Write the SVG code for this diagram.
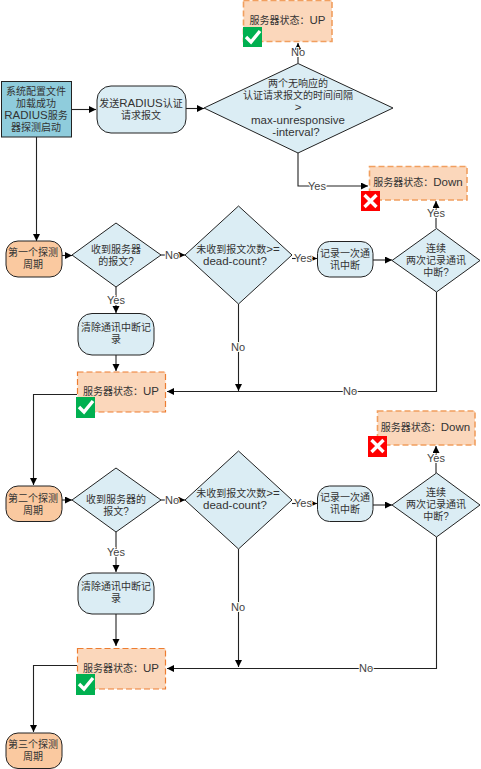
<svg xmlns="http://www.w3.org/2000/svg" width="481" height="769" viewBox="0 0 481 769">
<defs>
<marker id="arr" markerWidth="10" markerHeight="10" refX="7" refY="3.5" orient="auto" markerUnits="userSpaceOnUse"><path d="M0,0 L7,3.5 L0,7 Z" fill="#000"/></marker>
</defs>
<style>
text{font-family:"Liberation Sans","Noto Sans CJK SC",sans-serif;font-size:10px;fill:#333;text-anchor:middle}
.l{font-size:11.5px}
.lbl{font-size:11px;fill:#444;paint-order:stroke;stroke:#fff;stroke-width:2px}
.c{fill:none;stroke:#222;stroke-width:1.1;marker-end:url(#arr)}
.blue{fill:#DBEDF4;stroke:#222;stroke-width:1}
.or{fill:#FAC9A0;stroke:#222;stroke-width:1}
.st{fill:#FBD7BB;stroke:#ED7D31;stroke-width:1.2;stroke-dasharray:6 3}
.st2{fill:#FBD7BB;stroke:#F19F5F;stroke-width:1.6;stroke-dasharray:6 3}
.g{fill:#00B050}.r{fill:#FF0000}
.m{fill:none;stroke:#fff;stroke-width:3.4}
</style>
<g id="connectors">
<path class="c" d="M71.5,109.500H96"/>
<path class="c" d="M186,108.500H204"/>
<path class="c" d="M298,63V43"/>
<path class="c" d="M298,153V186H368"/>
<path class="c" d="M36.500,137V241"/>
<path class="c" d="M62,255.500H72"/>
<path class="c" d="M161,255H185"/>
<path class="c" d="M116,287V313"/>
<path class="c" d="M116,355V371"/>
<path class="c" d="M292,258.500H317"/>
<path class="c" d="M373,260H392"/>
<path class="c" d="M436,228V201"/>
<path class="c" d="M238.500,304V391"/>
<path class="c" d="M436.500,292V391.500H167"/>
<path class="c" d="M77,394.500H33.500V485"/>
<path class="c" d="M62,500H72"/>
<path class="c" d="M161,500H185"/>
<path class="c" d="M116,532V572"/>
<path class="c" d="M116,614V646"/>
<path class="c" d="M292,503.500H317"/>
<path class="c" d="M373,505H392"/>
<path class="c" d="M436,473V446"/>
<path class="c" d="M238.500,549V667"/>
<path class="c" d="M436.500,537V668.500H167"/>
<path class="c" d="M77,665.500H33.500V732"/>
</g>
<g id="labels">
<text class="lbl" x="298" y="56">No</text>
<text class="lbl" x="317" y="190">Yes</text>
<text class="lbl" x="436" y="217">Yes</text>
<text class="lbl" x="172" y="259">No</text>
<text class="lbl" x="303" y="262">Yes</text>
<text class="lbl" x="116" y="304">Yes</text>
<text class="lbl" x="238" y="351">No</text>
<text class="lbl" x="350" y="395">No</text>
<text class="lbl" x="172" y="504">No</text>
<text class="lbl" x="303" y="507">Yes</text>
<text class="lbl" x="116" y="556">Yes</text>
<text class="lbl" x="238" y="611">No</text>
<text class="lbl" x="366" y="672">No</text>
<text class="lbl" x="436" y="462">Yes</text>
</g>
<g id="start"><rect x="1.500" y="81.500" width="70" height="55.500" fill="#8FCCDC" stroke="#222"/>
<text x="36" y="95">系统配置文件</text><text x="36" y="107">加载成功</text><text x="36" y="119"><tspan class="l">RADIUS</tspan>服务</text><text x="36" y="131">器探测启动</text></g>
<g id="send"><rect class="blue" x="97" y="86" width="89" height="47" rx="14"/>
<text x="141" y="107">发送<tspan class="l">RADIUS</tspan>认证</text><text x="141" y="119">请求报文</text></g>
<g id="d1"><path class="blue" d="M298,63.500L393,108L298,153L204,108Z"/>
<text x="298" y="87">两个无响应的</text><text x="298" y="99">认证请求报文的时间间隔</text><text class="l" x="298" y="111">&gt;</text><text class="l" x="298" y="124">max-unresponsive</text><text class="l" x="296" y="136">-interval?</text></g>
<g id="up0"><rect class="st2" x="243.500" y="0.500" width="88.500" height="41"/><text x="287.500" y="24">服务器状态：<tspan class="l">UP</tspan></text>
<rect class="g" x="243" y="27" width="19" height="20"/><path class="m" d="M246,37L251,42L260,31"/></g>
<g id="down1"><rect class="st2" x="369.500" y="166.500" width="97.500" height="33.500"/><text x="418" y="186">服务器状态：<tspan class="l">Down</tspan></text>
<rect class="r" x="361" y="191" width="19" height="20"/><path class="m" d="M364.500,195L376.500,207M376.500,195L364.500,207"/></g>
<g id="p1"><rect class="or" x="6" y="241" width="56" height="36" rx="12"/><text x="33" y="256">第一个探测</text><text x="33" y="268">周期</text></g>
<g id="d2"><path class="blue" d="M116,223L161,255L116,287L72,255Z"/><text x="116" y="253">收到服务器</text><text x="116" y="265">的报文?</text></g>
<g id="d3"><path class="blue" d="M238.500,206L292,255L238.500,304L185,255Z"/><text x="238" y="253">未收到报文次数<tspan class="l">&gt;=</tspan></text><text class="l" x="235" y="265">dead-count?</text></g>
<g id="rec1"><rect class="blue" x="317.500" y="241.500" width="55.500" height="35.500" rx="12"/><text x="345" y="257">记录一次通</text><text x="345" y="269">讯中断</text></g>
<g id="d4"><path class="blue" d="M436.500,228.500L480,260.500L436.500,292L392,260.500Z"/><text x="436" y="252">连续</text><text x="436" y="264">两次记录通讯</text><text x="436" y="276">中断?</text></g>
<g id="clr1"><rect class="blue" x="78" y="313.500" width="76" height="41.500" rx="14"/><text x="116" y="331">清除通讯中断记</text><text x="116" y="343">录</text></g>
<g id="up1"><rect class="st" x="77.500" y="372" width="88" height="40"/><text x="121" y="395">服务器状态：<tspan class="l">UP</tspan></text>
<rect class="g" x="76" y="397" width="19" height="21"/><path class="m" d="M79,407L84,412L93,401"/></g>
<g id="p2"><rect class="or" x="6" y="486" width="56" height="35.500" rx="12"/><text x="33" y="502">第二个探测</text><text x="33" y="514">周期</text></g>
<g id="d5"><path class="blue" d="M116,468L161,500L116,532L72,500Z"/><text x="116" y="503">收到服务器的</text><text x="116" y="515">报文?</text></g>
<g id="d6"><path class="blue" d="M238.500,451L292,500L238.500,549L185,500Z"/><text x="238" y="497">未收到报文次数<tspan class="l">&gt;=</tspan></text><text class="l" x="235" y="509">dead-count?</text></g>
<g id="rec2"><rect class="blue" x="317.500" y="486" width="55.500" height="35.500" rx="12"/><text x="345" y="501">记录一次通</text><text x="345" y="513">讯中断</text></g>
<g id="d7"><path class="blue" d="M436.500,473L480,505L436.500,537L392,505Z"/><text x="436" y="496">连续</text><text x="436" y="508">两次记录通讯</text><text x="436" y="520">中断?</text></g>
<g id="down2"><rect class="st2" x="377.500" y="411" width="97.500" height="34"/><text x="425.500" y="431">服务器状态：<tspan class="l">Down</tspan></text>
<rect class="r" x="368" y="436" width="19" height="21"/><path class="m" d="M371.500,440L383.500,452M383.500,440L371.500,452"/></g>
<g id="clr2"><rect class="blue" x="78" y="573" width="76" height="41" rx="14"/><text x="116" y="590">清除通讯中断记</text><text x="116" y="602">录</text></g>
<g id="up2"><rect class="st" x="77.500" y="648.500" width="88" height="40.500"/><text x="121" y="672">服务器状态：<tspan class="l">UP</tspan></text>
<rect class="g" x="76" y="674" width="19" height="21"/><path class="m" d="M79,684L84,689L93,678"/></g>
<g id="p3"><rect class="or" x="6" y="733" width="56" height="35.500" rx="12"/><text x="33" y="748">第三个探测</text><text x="33" y="760">周期</text></g>
</svg>
